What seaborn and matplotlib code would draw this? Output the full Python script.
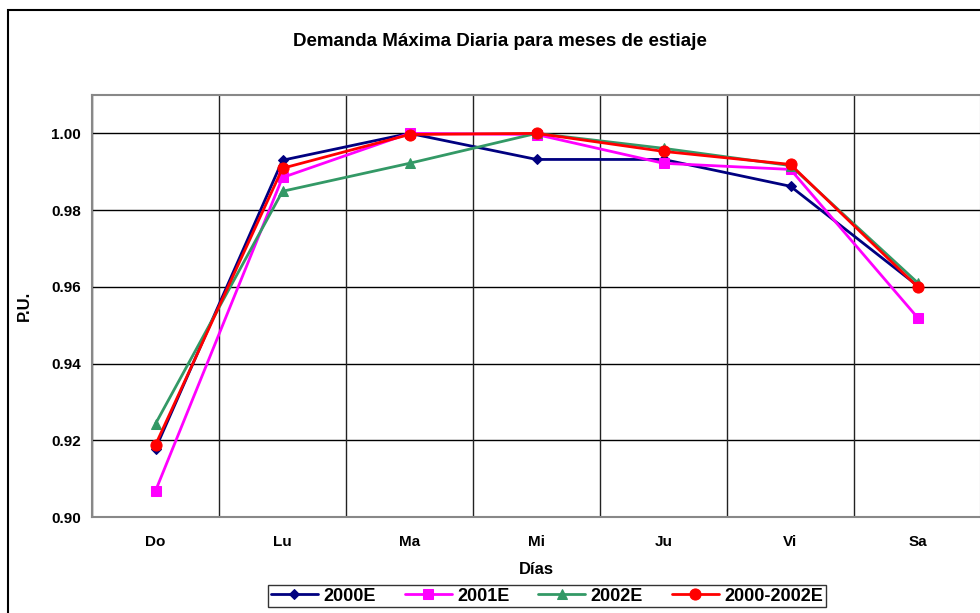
import numpy as np
import pandas as pd
import matplotlib
matplotlib.use('Agg')
import matplotlib.pyplot as plt
from matplotlib.patches import Rectangle
import seaborn as sns

dias = ['Do', 'Lu', 'Ma', 'Mi', 'Ju', 'Vi', 'Sa']
v2000 = [0.9178, 0.9930, 1.0000, 0.9932, 0.9932, 0.9862, 0.9603]
v2001 = [0.9068, 0.9885, 1.0000, 0.9997, 0.9922, 0.9906, 0.9520]
v2002 = [0.9243, 0.9849, 0.9922, 1.0000, 0.9961, 0.9916, 0.9611]
vprom = [0.9188, 0.9909, 0.9997, 1.0000, 0.9953, 0.9919, 0.9600]

series = ['2000E', '2001E', '2002E', '2000-2002E']
colores = ['#000080', '#FF00FF', '#339966', '#FF0000']
marcas = ['D', 's', '^', 'o']
tam = [5, 7, 7, 8]

sns.set_style('white')
plt.rcParams['font.family'] = ['Liberation Sans', 'DejaVu Sans']
plt.rcParams['font.weight'] = 'bold'
plt.rcParams['text.color'] = 'black'
plt.rcParams['xtick.color'] = 'black'
plt.rcParams['ytick.color'] = 'black'
plt.rcParams['axes.labelcolor'] = 'black'

fig = plt.figure(figsize=(9.8, 6.13), dpi=100)
ax = fig.add_axes([92/980, 1 - 517/613, (981-92)/980, (517-95)/613])

# borde exterior del grafico
fig.patches.append(Rectangle((8/980, -0.05), 1.2, 1 - 10/613 + 0.05,
                             transform=fig.transFigure, fill=False,
                             edgecolor='black', linewidth=1.5))

df = pd.DataFrame({'Día': dias * 4,
                   'PU': v2000 + v2001 + v2002 + vprom,
                   'serie': np.repeat(series, len(dias))})

for s, c, m, ms in zip(series, colores, marcas, tam):
    d = df[df['serie'] == s]
    sns.lineplot(data=d, x='Día', y='PU', ax=ax, color=c, marker=m,
                 markersize=ms, markeredgecolor=c, linewidth=2, label=s,
                 sort=False)

ax.set_xlim(-0.5, 6.5)
ax.set_ylim(0.90, 1.01)
ax.set_yticks([0.90, 0.92, 0.94, 0.96, 0.98, 1.00])
ax.set_yticklabels(['%.2f' % t for t in ax.get_yticks()], fontsize=11, fontweight='bold')
ax.set_xticks(range(len(dias)))
ax.set_xticklabels(dias, fontsize=11, fontweight='bold')
ax.set_xticks(np.arange(-0.5, 7, 1), minor=True)
ax.tick_params(axis='x', which='major', length=0, pad=13)
ax.tick_params(axis='x', which='minor', length=5, direction='out', color='#444444')
ax.tick_params(axis='y', length=5, direction='out', color='#444444', pad=3)

ax.grid(False)
for t in ax.get_yticks():
    ax.axhline(t, color='black', linewidth=1, zorder=0)
for t in np.arange(-0.5, 7, 1):
    ax.axvline(t, color='#222222', linewidth=1, zorder=0)

for sp in ax.spines.values():
    sp.set_color('#888888')
    sp.set_linewidth(1.5)

ax.set_xlabel('Días', fontsize=12, fontweight='bold', labelpad=9)
ax.set_ylabel('P.U.', fontsize=12, fontweight='bold', labelpad=14)
fig.text(500/980, 1 - 42/613, 'Demanda Máxima Diaria para meses de estiaje',
         ha='center', va='center', fontsize=13.5, fontweight='bold')

ax.legend(loc='upper center', ncol=4, frameon=True, fancybox=False,
          edgecolor='black', prop={'size': 13, 'weight': 'bold'},
          handlelength=2.6, handletextpad=0.3, columnspacing=1.6,
          borderpad=0.15, borderaxespad=0)
leg = ax.get_legend()
leg.get_frame().set_linewidth(1)
leg.set_bbox_to_anchor((547/980, 1 - 585/613), transform=fig.transFigure)

fig.savefig('out.png', dpi=100)
